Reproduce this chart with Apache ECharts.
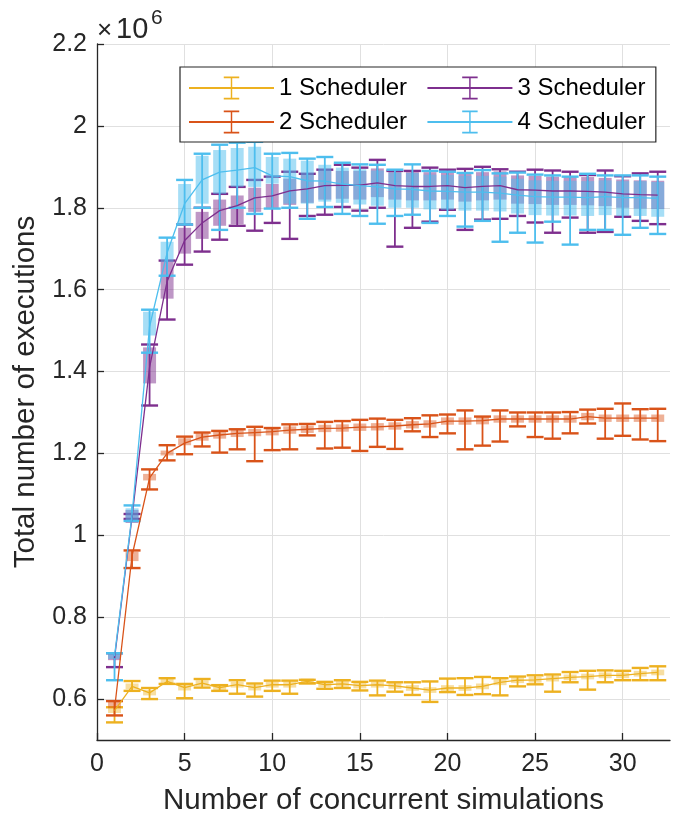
<!DOCTYPE html>
<html><head><meta charset="utf-8">
<script src="https://cdn.jsdelivr.net/npm/echarts@6/dist/echarts.min.js"></script>
<style>html,body{margin:0;padding:0;background:#fff}#c{width:673px;height:821px}</style>
</head><body><div id="c"></div>
<script>
const X = [1,2,3,4,5,6,7,8,9,10,11,12,13,14,15,16,17,18,19,20,21,22,23,24,25,26,27,28,29,30,31,32];
const yTicks = [0.6,0.8,1.0,1.2,1.4,1.6,1.8,2.0,2.2];
const xTicks = [0,5,10,15,20,25,30];
const names = ['1 Scheduler','2 Scheduler','3 Scheduler','4 Scheduler'];

// 1 Scheduler (values in millions)
const s1Mean = [0.572,0.631,0.615,0.643,0.628,0.639,0.628,0.635,0.628,0.635,0.635,0.643,0.635,0.637,0.633,0.635,0.632,0.627,0.622,0.627,0.627,0.631,0.641,0.646,0.647,0.650,0.653,0.655,0.658,0.658,0.662,0.665];
const s1Hi   = [0.580,0.644,0.627,0.651,0.637,0.649,0.634,0.646,0.638,0.645,0.645,0.647,0.642,0.646,0.642,0.645,0.641,0.641,0.643,0.650,0.651,0.654,0.651,0.655,0.658,0.660,0.666,0.669,0.670,0.669,0.676,0.680];
const s1Lo   = [0.543,0.620,0.600,0.637,0.602,0.628,0.620,0.613,0.606,0.620,0.613,0.638,0.625,0.627,0.621,0.609,0.618,0.610,0.593,0.617,0.610,0.612,0.609,0.631,0.636,0.618,0.641,0.623,0.641,0.646,0.646,0.646];
const s1BoxLo= [0.566,0.624,0.609,0.637,0.621,0.632,0.622,0.628,0.621,0.628,0.628,0.637,0.629,0.630,0.626,0.628,0.625,0.620,0.615,0.620,0.620,0.624,0.634,0.639,0.640,0.643,0.646,0.648,0.651,0.651,0.655,0.658];
const s1BoxHi= [0.579,0.638,0.622,0.650,0.635,0.646,0.635,0.642,0.635,0.642,0.642,0.650,0.642,0.644,0.640,0.642,0.639,0.634,0.629,0.634,0.634,0.638,0.648,0.653,0.654,0.657,0.660,0.662,0.665,0.665,0.669,0.672];

// 2 Scheduler
const s2Mean = [0.575,0.950,1.140,1.200,1.225,1.240,1.245,1.249,1.251,1.253,1.257,1.259,1.261,1.262,1.264,1.265,1.267,1.270,1.272,1.279,1.279,1.280,1.284,1.284,1.284,1.284,1.284,1.290,1.286,1.286,1.286,1.286];
const s2Hi   = [0.595,0.963,1.161,1.220,1.241,1.251,1.255,1.259,1.265,1.262,1.271,1.272,1.277,1.279,1.282,1.285,1.282,1.286,1.293,1.295,1.305,1.290,1.305,1.300,1.300,1.300,1.301,1.307,1.309,1.322,1.308,1.309];
const s2Lo   = [0.560,0.920,1.112,1.183,1.198,1.217,1.202,1.210,1.181,1.208,1.210,1.244,1.212,1.214,1.206,1.216,1.211,1.254,1.240,1.249,1.210,1.219,1.229,1.266,1.240,1.236,1.249,1.273,1.236,1.243,1.234,1.230];
const s2BoxLo= [0.578,0.937,1.134,1.195,1.220,1.231,1.236,1.240,1.242,1.244,1.248,1.250,1.252,1.253,1.255,1.256,1.258,1.261,1.263,1.270,1.270,1.271,1.275,1.275,1.275,1.275,1.275,1.281,1.277,1.277,1.277,1.277];
const s2BoxHi= [0.593,0.960,1.150,1.207,1.237,1.249,1.254,1.258,1.260,1.262,1.266,1.268,1.270,1.271,1.273,1.274,1.276,1.279,1.281,1.288,1.288,1.289,1.293,1.293,1.293,1.293,1.293,1.299,1.295,1.295,1.295,1.295];

// 3 Scheduler
const s3Mean = [0.700,1.045,1.410,1.620,1.720,1.763,1.793,1.805,1.824,1.829,1.841,1.846,1.854,1.855,1.855,1.861,1.854,1.852,1.852,1.854,1.849,1.852,1.854,1.844,1.843,1.841,1.841,1.840,1.838,1.834,1.832,1.831];
const s3Hi   = [0.712,1.052,1.466,1.671,1.759,1.800,1.834,1.851,1.868,1.876,1.888,1.883,1.893,1.905,1.898,1.917,1.890,1.890,1.898,1.893,1.895,1.900,1.894,1.888,1.893,1.891,1.888,1.880,1.891,1.877,1.884,1.888];
const s3Lo   = [0.678,1.040,1.317,1.527,1.661,1.693,1.722,1.756,1.744,1.763,1.724,1.780,1.783,1.802,1.793,1.800,1.705,1.751,1.766,1.795,1.746,1.771,1.773,1.780,1.764,1.739,1.776,1.739,1.741,1.778,1.768,1.760];
const s3BoxLo= [0.695,1.030,1.371,1.578,1.688,1.724,1.756,1.760,1.790,1.798,1.807,1.812,1.820,1.822,1.820,1.826,1.820,1.818,1.818,1.820,1.815,1.818,1.820,1.810,1.809,1.807,1.807,1.806,1.804,1.800,1.798,1.797];
const s3BoxHi= [0.712,1.062,1.459,1.668,1.751,1.790,1.820,1.830,1.849,1.858,1.871,1.880,1.890,1.890,1.890,1.896,1.889,1.887,1.887,1.889,1.884,1.887,1.889,1.879,1.878,1.876,1.876,1.875,1.873,1.869,1.867,1.866];

// 4 Scheduler
const s4Mean = [0.705,1.050,1.510,1.690,1.810,1.868,1.887,1.892,1.898,1.878,1.876,1.866,1.865,1.858,1.854,1.851,1.846,1.845,1.841,1.840,1.838,1.838,1.836,1.831,1.827,1.826,1.826,1.825,1.827,1.825,1.825,1.823];
const s4Hi   = [0.712,1.073,1.551,1.727,1.868,1.932,1.954,1.959,1.961,1.932,1.934,1.920,1.924,1.910,1.906,1.905,1.893,1.906,1.890,1.888,1.885,1.892,1.884,1.886,1.881,1.879,1.876,1.883,1.879,1.879,1.879,1.876];
const s4Lo   = [0.646,1.035,1.446,1.634,1.759,1.800,1.746,1.800,1.785,1.798,1.800,1.773,1.802,1.785,1.780,1.761,1.780,1.783,1.763,1.780,1.754,1.768,1.717,1.739,1.715,1.766,1.710,1.746,1.746,1.734,1.751,1.736];
const s4BoxLo= [0.698,1.036,1.488,1.668,1.761,1.810,1.834,1.851,1.851,1.859,1.810,1.810,1.815,1.812,1.808,1.805,1.800,1.800,1.796,1.795,1.793,1.793,1.791,1.786,1.782,1.781,1.781,1.780,1.782,1.780,1.780,1.778];
const s4BoxHi= [0.712,1.066,1.546,1.717,1.858,1.927,1.941,1.946,1.949,1.924,1.920,1.915,1.905,1.898,1.894,1.891,1.886,1.885,1.881,1.880,1.878,1.878,1.876,1.871,1.867,1.866,1.866,1.865,1.867,1.865,1.865,1.863];

const colors = ['#EDB120','#D95319','#7E2F8E','#4DBEEE'];
const boxColors = ['rgba(237,177,32,0.42)','rgba(217,83,25,0.45)','rgba(126,47,142,0.5)','rgba(77,190,238,0.5)'];
const all = [
  [s1Mean,s1Lo,s1Hi,s1BoxLo,s1BoxHi],
  [s2Mean,s2Lo,s2Hi,s2BoxLo,s2BoxHi],
  [s3Mean,s3Lo,s3Hi,s3BoxLo,s3BoxHi],
  [s4Mean,s4Lo,s4Hi,s4BoxLo,s4BoxHi]
];
const FONT = '"Liberation Sans", Arial, Helvetica, sans-serif';
const legendSym = 'path://M0,12L24,12Z M4,0h16v2h-16z M11.25,0h1.5v24h-1.5z M4,22h16v2h-16z';

function whiskerRender(color){
  return function(params, api){
    const x = api.value(0), lo = api.value(1), hi = api.value(2);
    const a = api.coord([x, lo]), b = api.coord([x, hi]);
    const hw = 8.5;
    return {type:'group', children:[
      {type:'line', shape:{x1:a[0],y1:a[1],x2:b[0],y2:b[1]}, style:{stroke:color,lineWidth:1.8}},
      {type:'line', shape:{x1:a[0]-hw,y1:a[1],x2:a[0]+hw,y2:a[1]}, style:{stroke:color,lineWidth:2.4}},
      {type:'line', shape:{x1:b[0]-hw,y1:b[1],x2:b[0]+hw,y2:b[1]}, style:{stroke:color,lineWidth:2.4}}
    ]};
  };
}
function boxRender(color){
  return function(params, api){
    const x = api.value(0), lo = api.value(1), hi = api.value(2);
    const a = api.coord([x - 0.37, hi]), b = api.coord([x + 0.37, lo]);
    return {type:'rect', shape:{x:a[0], y:a[1], width:b[0]-a[0], height:b[1]-a[1]}, style:{fill:color}};
  };
}

const series = [];
all.forEach((s, i) => {
  const [mean, lo, hi, bLo, bHi] = s;
  series.push({
    name: names[i], type:'line', data: X.map((x,k)=>[x, mean[k]]),
    symbol: legendSym, showSymbol:false, symbolSize: 10,
    lineStyle:{color:colors[i], width:1.3}, itemStyle:{color:colors[i]},
    emphasis:{disabled:true}, silent:true
  });
  series.push({
    name: names[i]+' err', type:'custom', renderItem: whiskerRender(colors[i]),
    data: X.map((x,k)=>[x, lo[k], hi[k]]), encode:{x:0, y:[1,2]}, silent:true
  });
  series.push({
    name: names[i]+' box', type:'custom', renderItem: boxRender(boxColors[i]),
    data: X.map((x,k)=>[x, bLo[k], bHi[k]]), encode:{x:0, y:[1,2]}, silent:true
  });
});

const axisColor = '#262626';
const option = {
  animation:false,
  backgroundColor:'#fff',
  grid:{left:97, right:3, top:44, bottom:79, containLabel:false},
  xAxis:{
    type:'value', min:0, max:32.7,
    name:'Number of concurrent simulations', nameLocation:'middle', nameGap:46,
    nameTextStyle:{fontFamily:FONT, fontSize:29.5, color:axisColor},
    axisLine:{onZero:false, lineStyle:{color:axisColor, width:1.3}},
    axisTick:{inside:true, length:7, customValues:xTicks, lineStyle:{color:axisColor, width:1.3}},
    axisLabel:{customValues:xTicks, fontFamily:FONT, fontSize:25, color:axisColor, margin:12},
    splitLine:{show:true, lineStyle:{color:'#e0e0e0', width:1}}
  },
  yAxis:{
    type:'value', min:0.5, max:2.2,
    name:'Total number of executions', nameLocation:'middle', nameGap:56,
    nameTextStyle:{fontFamily:FONT, fontSize:29.5, color:axisColor},
    axisLine:{show:true, onZero:false, lineStyle:{color:axisColor, width:1.3}},
    axisTick:{show:true, inside:true, length:7, customValues:yTicks, lineStyle:{color:axisColor, width:1.3}},
    axisLabel:{customValues:yTicks, fontFamily:FONT, fontSize:25, color:axisColor, margin:10,
      formatter: v => String(+v.toFixed(1))},
    splitLine:{show:true, lineStyle:{color:'#e0e0e0', width:1}}
  },
  legend:{
    data:[names[0], names[2], names[1], names[3]],
    left:180, top:67, width:480, orient:'horizontal',
    itemWidth:85, itemHeight:29, itemGap:6,
    padding:[7,-3,6,8],
    formatter: n => n + '  ',
    backgroundColor:'#fff', borderColor:'#262626', borderWidth:1.2, borderRadius:0,
    textStyle:{fontFamily:FONT, fontSize:24, lineHeight:28, color:'#000'},
    selectedMode:false
  },
  graphic:[
    {type:'text', left:97, top:18, style:{text:'×', fontSize:26, fontFamily:FONT, fill:axisColor}},
    {type:'text', left:116, top:15, style:{text:'10', fontSize:29, fontFamily:FONT, fill:axisColor}},
    {type:'text', left:151, top:8, style:{text:'6', fontSize:21, fontFamily:FONT, fill:axisColor}}
  ],
  series: series
};
const chart = echarts.init(document.getElementById('c'), null, {renderer:'canvas'});
chart.setOption(option);
</script></body></html>
